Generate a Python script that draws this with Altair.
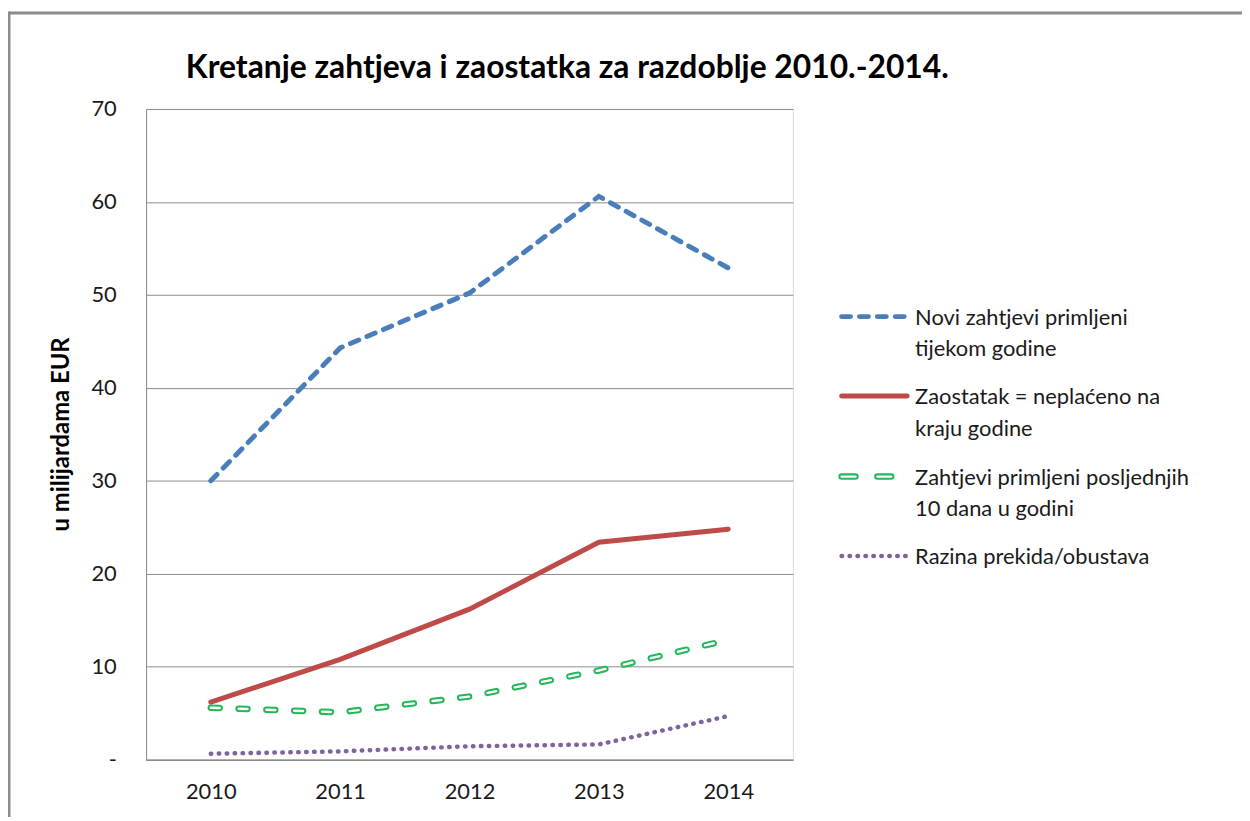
import altair as alt
import pandas as pd

# ---------------- data ----------------
years = ["2010", "2011", "2012", "2013", "2014"]
series_names = [
    "Novi zahtjevi primljeni tijekom godine",
    "Zaostatak = neplaćeno na kraju godine",
    "Zahtjevi primljeni posljednjih 10 dana u godini",
    "Razina prekida/obustava",
]
novi = [30.0, 44.3, 50.2, 60.6, 52.9]
zaostatak = [6.2, 10.8, 16.2, 23.4, 24.8]
zadnjih10 = [5.6, 5.1, 6.8, 9.6, 12.9]
prekid = [0.65, 0.9, 1.45, 1.65, 4.7]
legend_lines = [
    ["Novi zahtjevi primljeni", "tijekom godine"],
    ["Zaostatak = neplaćeno na", "kraju godine"],
    ["Zahtjevi primljeni posljednjih", "10 dana u godini"],
    ["Razina prekida/obustava"],
]
title_text = "Kretanje zahtjeva i zaostatka za razdoblje 2010.-2014."
y_title = "u milijardama EUR"
y_ticks = [0, 10, 20, 30, 40, 50, 60, 70]

values = [novi, zaostatak, zadnjih10, prekid]
rows = []
for name, vals in zip(series_names, values):
    for yr, v in zip(years, vals):
        rows.append({"godina": yr, "serija": name, "vrijednost": v})
df = pd.DataFrame(rows)
one = pd.DataFrame({"k": [0]})

FONT = "Lato"
TXT = "#1a1a1a"
W, H = 651, 655

x_enc = alt.X(
    "godina:O",
    scale=alt.Scale(type="point", padding=0.5, domain=years),
    axis=alt.Axis(
        title=None, labelAngle=0, ticks=False, labelPadding=22,
        labelFontSize=22, labelFont=FONT, labelColor=TXT,
        domainColor="#8a8a8a", domainWidth=1.5, grid=False,
    ),
)
y_enc = alt.Y(
    "vrijednost:Q",
    scale=alt.Scale(domain=[0, 70], nice=False),
    axis=alt.Axis(
        title=y_title, values=y_ticks, ticks=False, labelPadding=30,
        labelFontSize=22, labelFont=FONT, labelColor=TXT,
        labelExpr="datum.value == 0 ? '-' : datum.label",
        grid=True, gridColor="#8a8a8a", gridWidth=1,
        domainColor="#8a8a8a", domainWidth=1,
        titleFont=FONT, titleFontSize=24, titleFontWeight="bold", titleColor="#000000",
        titleAngle=270, titleX=-85, titleY=327, titleAlign="center", titleBaseline="middle",
    ),
)

base = alt.Chart(df).encode(x=x_enc, y=y_enc)

def series_layer(name, **mark):
    return base.transform_filter(alt.datum.serija == name).mark_line(**mark)

blue = "#4A7EBB"
red = "#BE4B48"
green = "#22B85A"
purple = "#7F63A1"

l_blue = series_layer(series_names[0], color=blue, strokeWidth=5, strokeDash=[9, 9], strokeCap="round")
l_red = series_layer(series_names[1], color=red, strokeWidth=5, strokeCap="round")
l_green_o = series_layer(series_names[2], color=green, strokeWidth=6.5, strokeDash=[9, 19], strokeCap="round")
l_green_i = series_layer(series_names[2], color="#ffffff", strokeWidth=2.4, strokeDash=[9, 19], strokeCap="round")
l_purple = series_layer(series_names[3], color=purple, strokeWidth=4.5, strokeDash=[0.5, 7.5], strokeCap="round")

# ---------------- decorations: frame, title, legend ----------------
frame_top = alt.Chart(one).mark_rule(color="#8c8c8c", strokeWidth=3).encode(
    x=alt.value(-138), x2=alt.value(1110), y=alt.value(-96.5))
frame_left = alt.Chart(one).mark_rule(color="#8c8c8c", strokeWidth=3).encode(
    x=alt.value(-138), y=alt.value(-98), y2=alt.value(720))
title = alt.Chart(one).mark_text(
    text=title_text, font=FONT, fontSize=32, fontWeight="bold", color="#000000",
    align="left", baseline="alphabetic").encode(x=alt.value(40), y=alt.value(-31))

leg_y = [209, 289, 370, 450]
leg_x0, leg_x1, leg_tx = 697, 769, 774
leg_styles = [
    [dict(color=blue, strokeWidth=5, strokeDash=[9, 9], strokeCap="round")],
    [dict(color=red, strokeWidth=5, strokeCap="round")],
    [dict(color=green, strokeWidth=6.5, strokeDash=[14, 22], strokeCap="round"),
     dict(color="#ffffff", strokeWidth=2.4, strokeDash=[14, 22], strokeCap="round")],
    [dict(color=purple, strokeWidth=4.5, strokeDash=[0.5, 7.5], strokeCap="round")],
]
legend_layers = []
for yy, styles, lines in zip(leg_y, leg_styles, legend_lines):
    for st in styles:
        legend_layers.append(
            alt.Chart(one).mark_rule(**st).encode(
                x=alt.value(leg_x0 + 3), x2=alt.value(leg_x1 - 3), y=alt.value(yy)))
    legend_layers.append(
        alt.Chart(one).mark_text(
            text=lines, font=FONT, fontSize=22, color=TXT, align="left",
            baseline="alphabetic", lineHeight=32).encode(
            x=alt.value(leg_tx), y=alt.value(yy + 8)))

chart = alt.layer(
    l_blue, l_red, l_green_o, l_green_i, l_purple,
    frame_top, frame_left, title, *legend_layers,
).properties(
    width=W, height=H,
    autosize=alt.AutoSizeParams(type="none"),
    padding={"left": 139, "top": 99, "right": 452, "bottom": 55},
).configure_view(strokeWidth=0).configure(background="#ffffff")

chart.save("out.html", embed_options={"renderer": "svg", "actions": False})
